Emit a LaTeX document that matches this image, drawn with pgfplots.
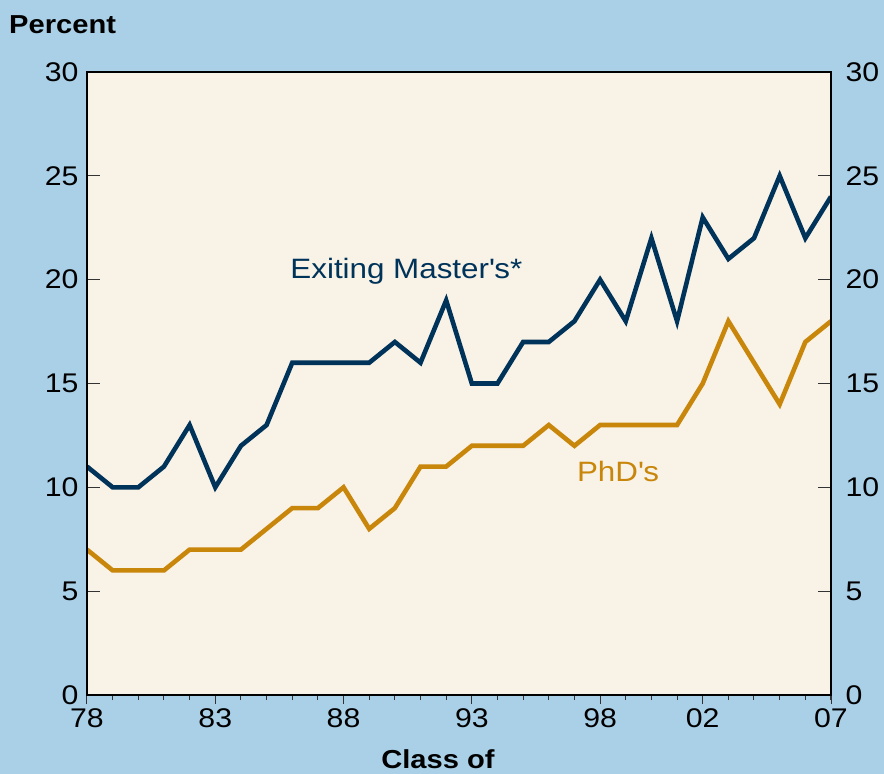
\documentclass[border=0pt]{standalone}
\usepackage{pgfplots}
\pgfplotsset{compat=1.18}
\usepackage{fontspec}
\setmainfont[FakeStretch=1.12]{Liberation Sans}
\definecolor{bgblue}{HTML}{AAD0E8}
\definecolor{plotbg}{HTML}{F9F2E7}
\definecolor{navy}{HTML}{003359}
\definecolor{gold}{HTML}{C8860A}
\pgfplotstableread{
year masters phd
1978 11 7
1979 10 6
1980 10 6
1981 11 6
1982 13 7
1983 10 7
1984 12 7
1985 13 8
1986 16 9
1987 16 9
1988 16 10
1989 16 8
1990 17 9
1991 16 11
1992 19 11
1993 15 12
1994 15 12
1995 17 12
1996 17 13
1997 18 12
1998 20 13
1999 18 13
2000 22 13
2001 18 13
2002 23 15
2003 21 18
2004 22 16
2005 25 14
2006 22 17
2007 24 18
}\datatable
\begin{document}
\begin{tikzpicture}
\fill[bgblue] (-87pt,-79pt) rectangle (797pt,695pt);
\pgfplotsset{common/.style={
  scale only axis, width=744pt, height=623pt,
  xmin=1978, xmax=2007, ymin=0, ymax=30,
  /pgf/number format/assume math mode=true,
  ticklabel style={font=\fontsize{27}{30}\selectfont},
  axis line style={line width=1.5pt, black},
}}
\begin{axis}[common,
  axis background/.style={fill=plotbg},
  xtick=\empty,
  ytick={0,5,...,30},
  ytick pos=both, yticklabel pos=left,
  tick align=inside, major tick length=13pt,
  tick style={line width=1pt, black!80},
  yticklabel style={xshift=-5pt},
]
\addplot[navy, line width=4.6pt, line join=miter] table[x=year, y=masters] {\datatable};
\addplot[gold, line width=4.6pt, line join=miter] table[x=year, y=phd] {\datatable};
\node[navy, font=\fontsize{28}{30}\selectfont] at (axis cs:1990.45,20.4) {Exiting Master\textquotesingle s*};
\node[gold, font=\fontsize{28}{30}\selectfont] at (axis cs:1998.7,10.75) {PhD\textquotesingle s};
\end{axis}
\begin{axis}[common,
  xtick={1978,1983,1988,1993,1998,2002,2007},
  xticklabels={78,83,88,93,98,02,07},
  minor xtick={1978,...,2007},
  xtick pos=bottom,
  ytick={0,5,...,30}, ytick pos=right, yticklabel pos=right,
  ytick style={draw=none},
  tick align=outside, major tick length=9pt, minor tick length=5pt,
  xtick style={line width=1pt, black!80},
  minor tick style={line width=1pt, black!80},
  yticklabel style={xshift=2pt},
  xticklabel style={yshift=-1pt},
]
\end{axis}
\node[anchor=west, inner sep=0pt, font=\bfseries\fontsize{26}{30}\selectfont] at (-78pt,670pt) {Percent};
\node[inner sep=0pt, font=\bfseries\fontsize{26}{30}\selectfont] at (351pt,-64pt) {Class of};
\end{tikzpicture}
\end{document}
